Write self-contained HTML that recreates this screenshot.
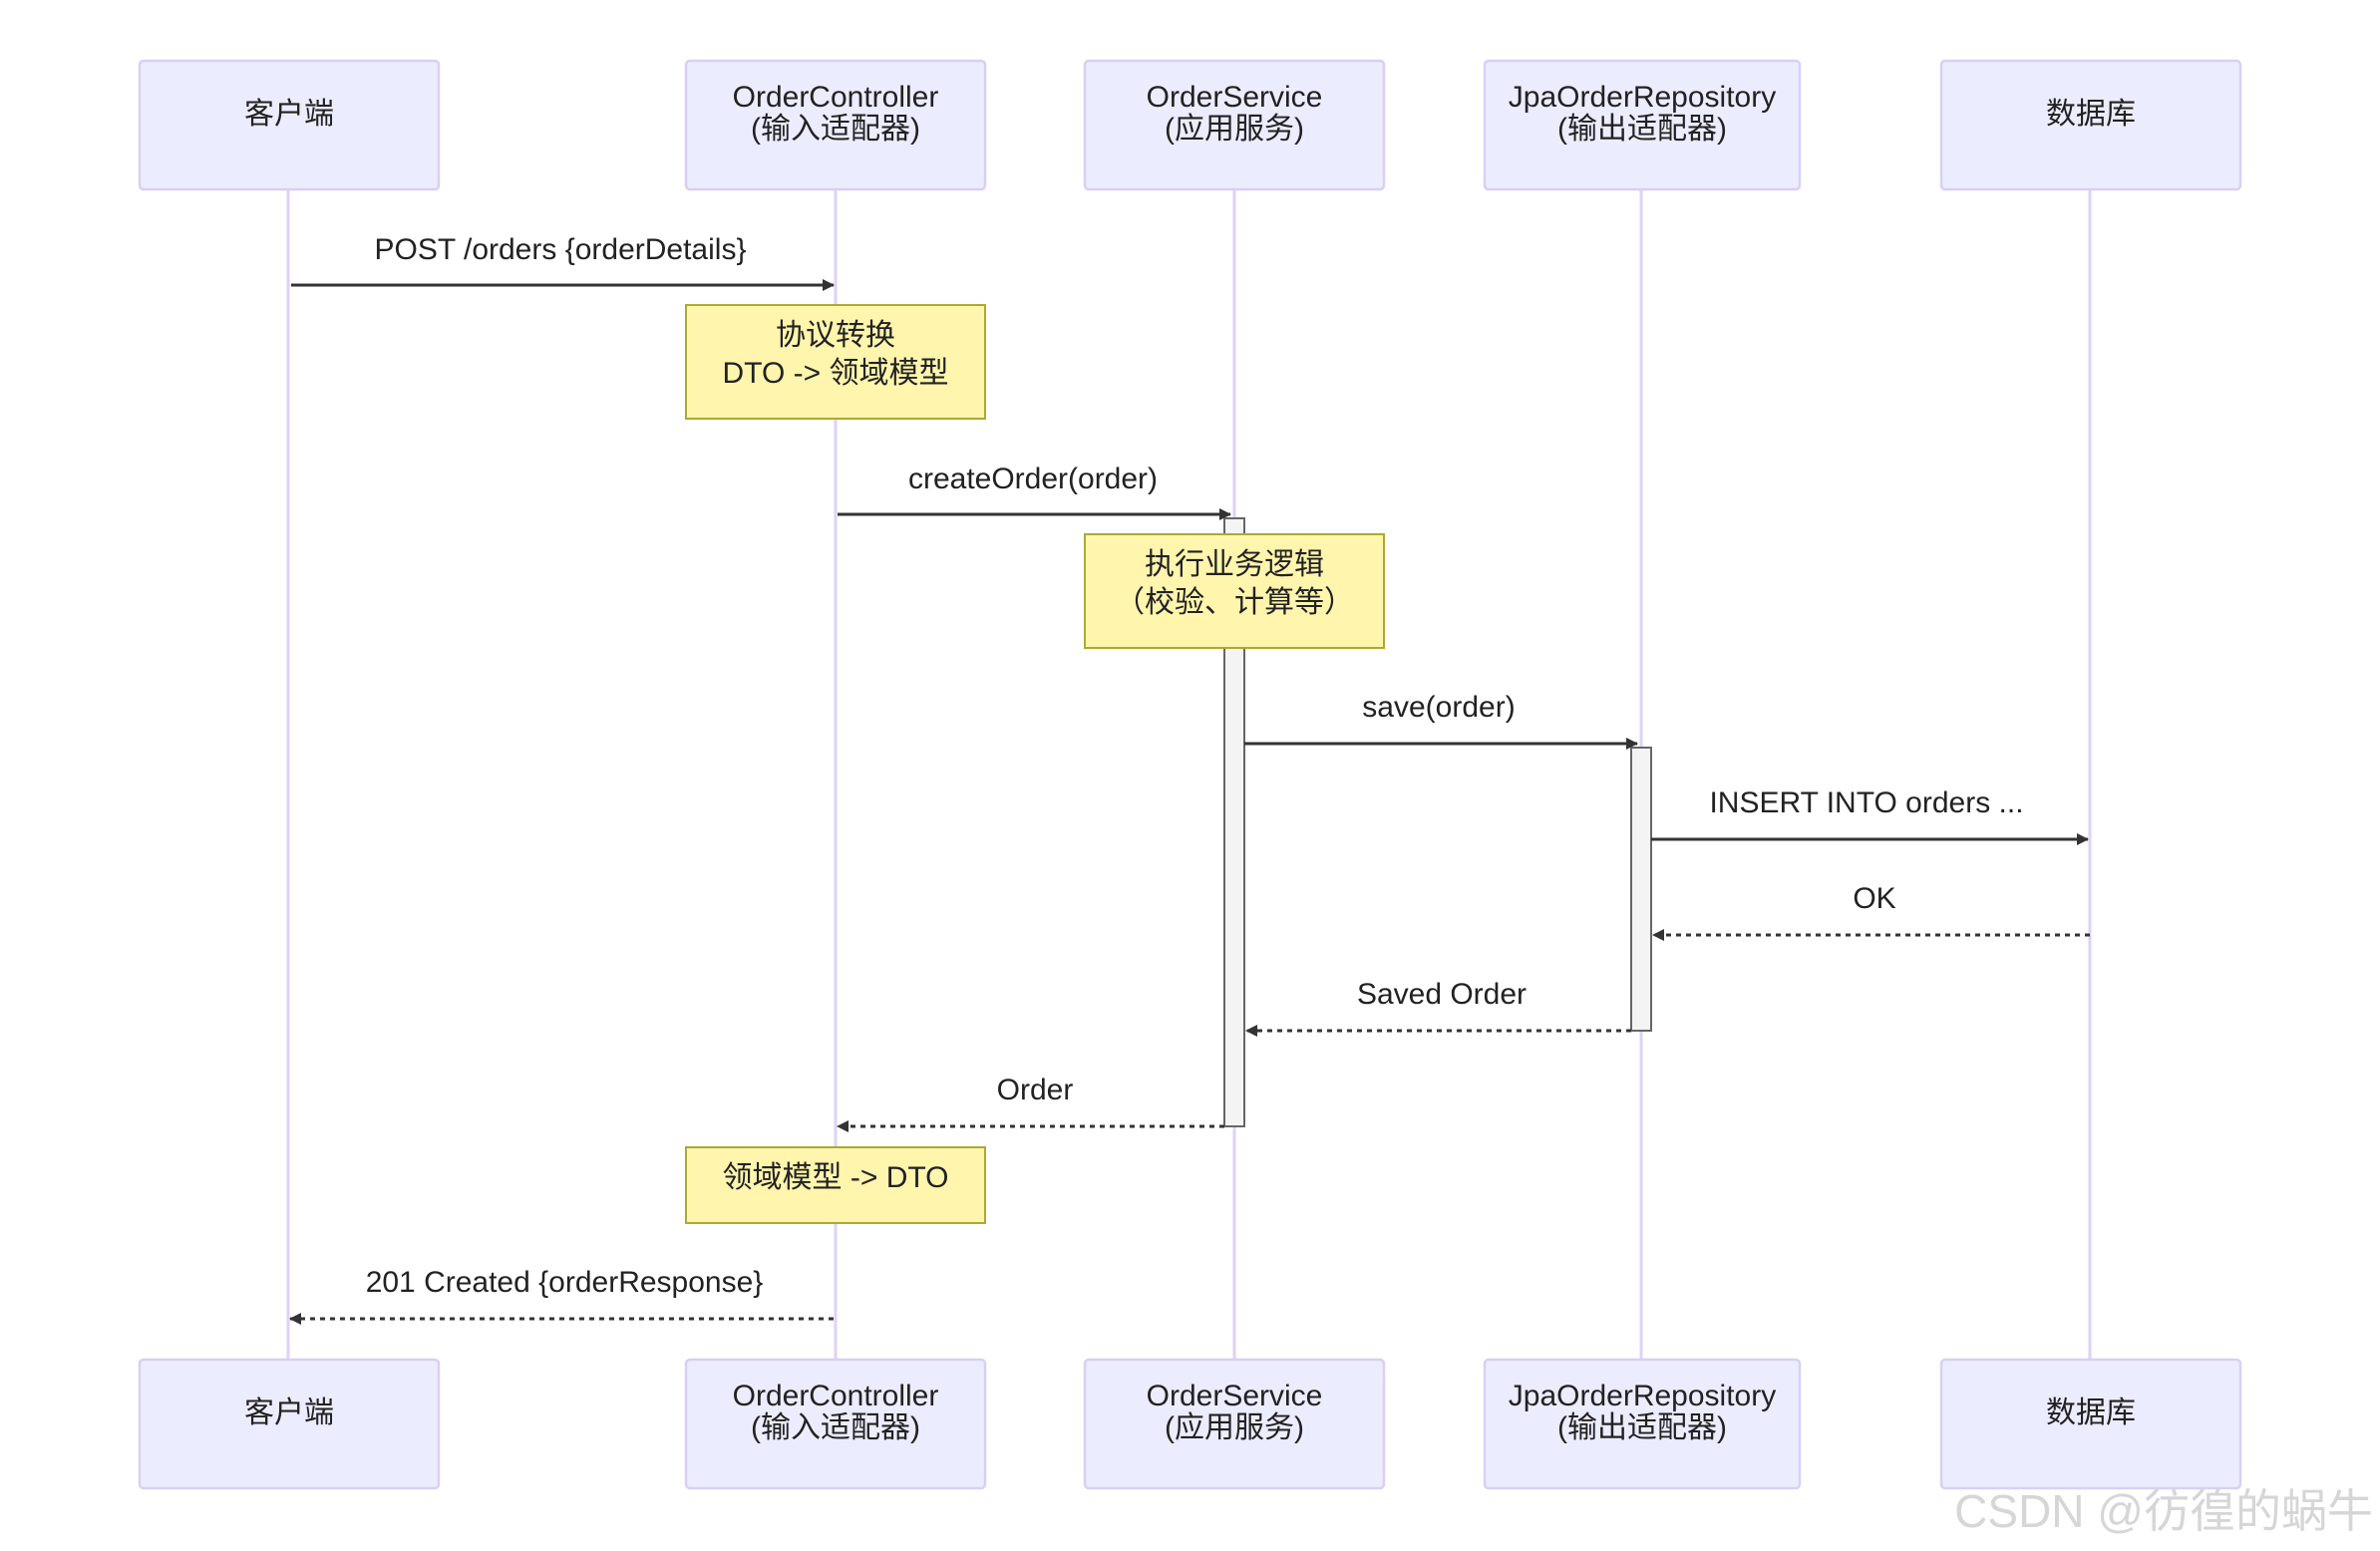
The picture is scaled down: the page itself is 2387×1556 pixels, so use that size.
<!DOCTYPE html>
<html><head><meta charset="utf-8"><style>
html,body{margin:0;padding:0;background:#fff;}
svg{display:block;}
text{font-family:"Liberation Sans","Noto Sans CJK SC",sans-serif;fill:#222;}
.a{fill:#ECECFF;stroke:#d9cff5;stroke-width:2.5;}
.l{stroke:#ddd2f5;stroke-width:3;}
.n{fill:#fff5ad;stroke:#aaaa33;stroke-width:2;}
.act{fill:#f4f4f4;stroke:#666;stroke-width:2;}
.m{stroke:#333;stroke-width:3;fill:none;}
.d{stroke:#333;stroke-width:3;fill:none;stroke-dasharray:5,5;}
.t{font-size:30px;text-anchor:middle;}
.p{font-size:30px;text-anchor:middle;}
</style></head><body>
<svg width="2387" height="1556" viewBox="0 0 2387 1556" xmlns="http://www.w3.org/2000/svg">
<defs>
<marker id="ar" markerWidth="12" markerHeight="12" refX="11" refY="6" orient="auto" markerUnits="userSpaceOnUse"><path d="M0,0 L12,6 L0,12 z" fill="#333"/></marker>
<marker id="al" markerWidth="12" markerHeight="12" refX="11" refY="6" orient="auto" markerUnits="userSpaceOnUse"><path d="M0,0 L12,6 L0,12 z" fill="#333"/></marker>
</defs>
<!-- lifelines -->
<line class="l" x1="289" y1="190" x2="289" y2="1364"/>
<line class="l" x1="838" y1="190" x2="838" y2="1364"/>
<line class="l" x1="1238" y1="190" x2="1238" y2="1364"/>
<line class="l" x1="1646" y1="190" x2="1646" y2="1364"/>
<line class="l" x1="2096" y1="190" x2="2096" y2="1364"/>
<!-- top actors -->
<rect class="a" x="140" y="61" width="300" height="129" rx="4"/>
<rect class="a" x="688" y="61" width="300" height="129" rx="4"/>
<rect class="a" x="1088" y="61" width="300" height="129" rx="4"/>
<rect class="a" x="1489" y="61" width="316" height="129" rx="4"/>
<rect class="a" x="1947" y="61" width="300" height="129" rx="4"/>
<text class="p" x="290" y="124">客户端</text>
<text class="p" x="838" y="107">OrderController</text><text class="p" x="838" y="139">(输入适配器)</text>
<text class="p" x="1238" y="107">OrderService</text><text class="p" x="1238" y="139">(应用服务)</text>
<text class="p" x="1647" y="107">JpaOrderRepository</text><text class="p" x="1647" y="139">(输出适配器)</text>
<text class="p" x="2097" y="124">数据库</text>
<!-- bottom actors -->
<rect class="a" x="140" y="1364" width="300" height="129" rx="4"/>
<rect class="a" x="688" y="1364" width="300" height="129" rx="4"/>
<rect class="a" x="1088" y="1364" width="300" height="129" rx="4"/>
<rect class="a" x="1489" y="1364" width="316" height="129" rx="4"/>
<rect class="a" x="1947" y="1364" width="300" height="129" rx="4"/>
<text class="p" x="290" y="1427">客户端</text>
<text class="p" x="838" y="1410">OrderController</text><text class="p" x="838" y="1442">(输入适配器)</text>
<text class="p" x="1238" y="1410">OrderService</text><text class="p" x="1238" y="1442">(应用服务)</text>
<text class="p" x="1647" y="1410">JpaOrderRepository</text><text class="p" x="1647" y="1442">(输出适配器)</text>
<text class="p" x="2097" y="1427">数据库</text>
<!-- activations -->
<rect class="act" x="1228" y="520" width="20" height="610"/>
<rect class="act" x="1636" y="750" width="20" height="284"/>
<!-- messages -->
<text class="t" x="562" y="260">POST /orders {orderDetails}</text>
<line class="m" x1="292" y1="286" x2="836" y2="286" marker-end="url(#ar)"/>
<rect class="n" x="688" y="306" width="300" height="114"/>
<text class="t" x="838" y="346">协议转换</text>
<text class="t" x="838" y="384">DTO -&gt; 领域模型</text>
<text class="t" x="1036" y="490">createOrder(order)</text>
<line class="m" x1="840" y1="516" x2="1234" y2="516" marker-end="url(#ar)"/>
<rect class="n" x="1088" y="536" width="300" height="114"/>
<text class="t" x="1238" y="576">执行业务逻辑</text>
<text class="t" x="1238" y="614">（校验、计算等）</text>
<text class="t" x="1443" y="719">save(order)</text>
<line class="m" x1="1248" y1="746" x2="1642" y2="746" marker-end="url(#ar)"/>
<text class="t" x="1872" y="815">INSERT INTO orders ...</text>
<line class="m" x1="1656" y1="842" x2="2094" y2="842" marker-end="url(#ar)"/>
<text class="t" x="1880" y="911">OK</text>
<line class="d" x1="2096" y1="938" x2="1658" y2="938" marker-end="url(#al)"/>
<text class="t" x="1446" y="1007">Saved Order</text>
<line class="d" x1="1636" y1="1034" x2="1250" y2="1034" marker-end="url(#al)"/>
<text class="t" x="1038" y="1103">Order</text>
<line class="d" x1="1228" y1="1130" x2="840" y2="1130" marker-end="url(#al)"/>
<rect class="n" x="688" y="1151" width="300" height="76"/>
<text class="t" x="838" y="1191">领域模型 -&gt; DTO</text>
<text class="t" x="566" y="1296">201 Created {orderResponse}</text>
<line class="d" x1="836" y1="1323" x2="291" y2="1323" marker-end="url(#al)"/>
<!-- watermark -->
<text x="2380" y="1532" style="font-size:46px;text-anchor:end;fill:#d6d6d6;">CSDN @彷徨的蜗牛</text>
</svg>
</body></html>
